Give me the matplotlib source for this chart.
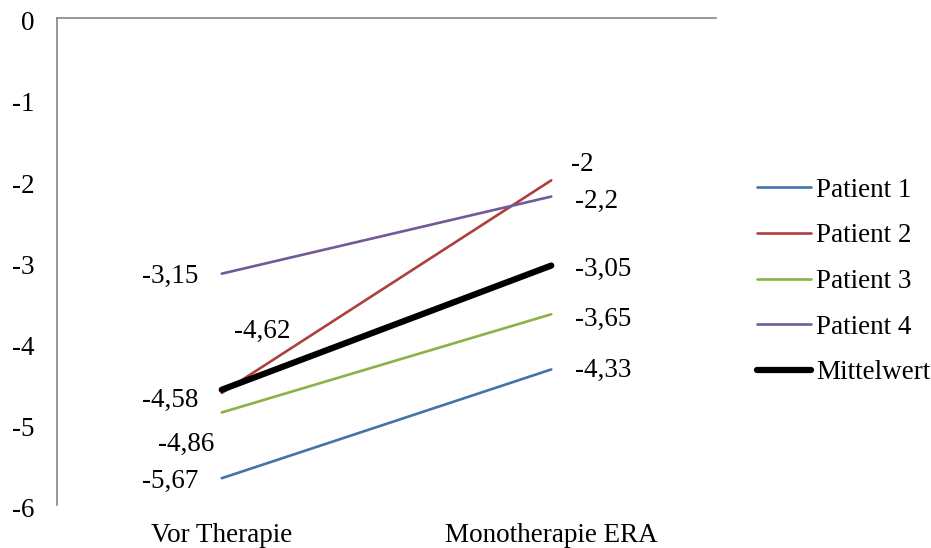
import matplotlib.pyplot as plt
import matplotlib.transforms as mtransforms

plt.rcParams['font.family'] = ['Liberation Serif', 'DejaVu Serif']

categories = ['Vor Therapie', 'Monotherapie ERA']
series_names = ['Patient 1', 'Patient 2', 'Patient 3', 'Patient 4', 'Mittelwert']
patient_1 = [-5.67, -4.33]
patient_2 = [-4.62, -2.0]
patient_3 = [-4.86, -3.65]
patient_4 = [-3.15, -2.2]
mittelwert = [-4.58, -3.05]
y_ticks = [0, -1, -2, -3, -4, -5, -6]

colors = ['#4472AC', '#AE403C', '#8DB049', '#715A98', '#000000']
widths = [1.9, 1.9, 1.9, 1.9, 4.5]

# label offsets (points) for left / right values
offsets_left = [(-17, -2), (29, 44), (-5, -23), (-17, -2), (-17, -7.5)]
offsets_right = [(17, -1), (14, 11.5), (17, -3.5), (17, -3.5), (17, -2.5)]

FS = 19.5

def fmt(v):
    s = f'{v:g}'
    return s.replace('.', ',')

fig = plt.figure(figsize=(9.31, 5.48), dpi=100)
ax = fig.add_axes([57 / 931, 1 - 505 / 548, 659 / 931, 487 / 548])

x = range(len(categories))
all_series = [patient_1, patient_2, patient_3, patient_4, mittelwert]
for name, vals, c, lw, ol, orr in zip(series_names, all_series, colors, widths,
                                      offsets_left, offsets_right):
    ax.plot(x, vals, color=c, lw=lw, label=name, solid_capstyle='round')
    ax.annotate(fmt(vals[0]), (0, vals[0]), xytext=ol, textcoords='offset points',
                ha='right' if ol[0] < 0 else 'center', va='center', fontsize=FS)
    ax.annotate(fmt(vals[1]), (1, vals[1]), xytext=orr, textcoords='offset points',
                ha='left', va='center', fontsize=FS)

ax.set_xlim(-0.5, 1.5)
ax.set_ylim(-6, 0)
ax.set_xticks(list(x))
ax.set_xticklabels(categories, fontsize=FS)
ax.set_yticks(y_ticks)
ax.set_yticklabels([str(t) for t in y_ticks], fontsize=FS)
ax.tick_params(axis='y', length=0, pad=16)
ax.tick_params(axis='x', length=0, pad=13)

# y labels sit slightly below their tick position in the original
shift = mtransforms.ScaledTranslation(0, -2 / 72, fig.dpi_scale_trans)
for lbl in ax.get_yticklabels():
    lbl.set_transform(lbl.get_transform() + shift)

for side in ['right', 'bottom']:
    ax.spines[side].set_visible(False)
for side in ['left', 'top']:
    ax.spines[side].set_color('#868686')
    ax.spines[side].set_linewidth(1.2)

ax.legend(loc='center left', bbox_to_anchor=(757 / 931, 1 - 281.5 / 548),
          bbox_transform=fig.transFigure, frameon=False, fontsize=FS,
          handlelength=2.0, handletextpad=0.19, labelspacing=0.76,
          borderaxespad=0, borderpad=0)

fig.savefig('out.png', dpi=100)
